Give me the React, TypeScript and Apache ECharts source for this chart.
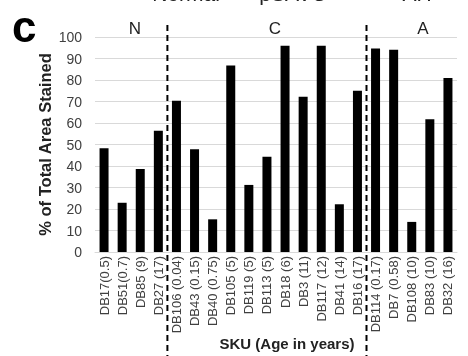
import React, { useEffect, useRef } from "react";
import * as echarts from "echarts";

const categories = [
  "DB17(0.5)", "DB51(0.7)", "DB85 (9)", "DB27 (17)",
  "DB106 (0.04)", "DB43 (0.15)", "DB40 (0.75)", "DB105 (5)", "DB119 (5)", "DB113 (5)",
  "DB18 (6)", "DB3 (11)", "DB117 (12)", "DB41 (14)", "DB16 (17)",
  "DB114 (0.17)", "DB7 (0.58)", "DB108 (10)", "DB83 (10)", "DB32 (16)",
];
const values = [48.2, 22.9, 38.6, 56.4, 70.4, 47.8, 15.2, 86.8, 31.2, 44.3, 95.9, 72.2, 95.9, 22.2, 75, 94.7, 94.1, 14, 61.7, 80.9];
const groupBoundaries = [3.5, 14.5];
const yTicks = { min: 0, max: 100, interval: 10 };

const FONT = "Liberation Sans, Arial, sans-serif";

export default function App() {
  const ref = useRef<HTMLDivElement>(null);
  useEffect(() => {
    if (!ref.current) return;
    const chart = echarts.init(ref.current, undefined, { renderer: "svg" });
    chart.setOption({
      animation: false,
      grid: { left: 95, right: 11, top: 37, bottom: 104, containLabel: false, outerBoundsMode: "none" },
      xAxis: {
        type: "category",
        data: categories,
        axisTick: { show: false },
        axisLine: { lineStyle: { color: "#d9d9d9" } },
        axisLabel: {
          rotate: 90,
          interval: 0,
          margin: 4,
          fontSize: 13,
          color: "#404040",
          fontFamily: FONT,
        },
        name: "SKU (Age in years)",
        nameLocation: "middle",
        nameGap: 84,
        nameMoveOverlap: false,
        nameTextStyle: { fontSize: 15, fontWeight: "bold", color: "#222", fontFamily: FONT, padding: [0, 0, 0, 22] },
      },
      yAxis: {
        type: "value",
        min: yTicks.min,
        max: yTicks.max,
        interval: yTicks.interval,
        axisLabel: { fontSize: 14, color: "#404040", fontFamily: FONT, margin: 13 },
        splitLine: { lineStyle: { color: "#d9d9d9" } },
        axisLine: { show: false },
        axisTick: { show: false },
        name: "% of Total Area Stained",
        nameLocation: "middle",
        nameGap: 42,
        nameMoveOverlap: false,
        nameTextStyle: { fontSize: 16.5, fontWeight: "bold", color: "#222", fontFamily: FONT },
      },
      series: [
        {
          type: "bar",
          data: values,
          barWidth: 9,
          itemStyle: { color: "#000" },
        },
      ],
    });
    const px = (i: number) => chart.convertToPixel({ xAxisIndex: 0 }, i) as number;
    const boundaryX = groupBoundaries.map((b) => (px(Math.floor(b)) + px(Math.ceil(b))) / 2);
    chart.setOption({
      graphic: [
        ...boundaryX.map((x) => ({
          type: "line",
          shape: { x1: x, y1: 25, x2: x, y2: 356 },
          style: { stroke: "#000", lineWidth: 2, lineDash: [6, 4] },
          z: 10,
        })),
        { type: "text", x: 12, y: 4, style: { text: "c", font: `900 44px ${FONT}`, fill: "#000" } },
        { type: "text", x: 186, y: 4, style: { text: "Normal", font: `21px ${FONT}`, fill: "#222", align: "center", verticalAlign: "bottom" } },
        { type: "text", x: 293, y: 4, style: { text: "pSAVC", font: `21px ${FONT}`, fill: "#222", align: "center", verticalAlign: "bottom" } },
        { type: "text", x: 417, y: 4, style: { text: "AH", font: `21px ${FONT}`, fill: "#222", align: "center", verticalAlign: "bottom" } },
        { type: "text", x: 135, y: 28, style: { text: "N", font: `17px ${FONT}`, fill: "#222", align: "center", verticalAlign: "middle" } },
        { type: "text", x: 275, y: 28, style: { text: "C", font: `17px ${FONT}`, fill: "#222", align: "center", verticalAlign: "middle" } },
        { type: "text", x: 423, y: 28, style: { text: "A", font: `17px ${FONT}`, fill: "#222", align: "center", verticalAlign: "middle" } },
      ],
    });
    return () => chart.dispose();
  }, []);
  return <div ref={ref} style={{ width: 468, height: 356, position: "fixed", left: 0, top: 0 }} />;
}
